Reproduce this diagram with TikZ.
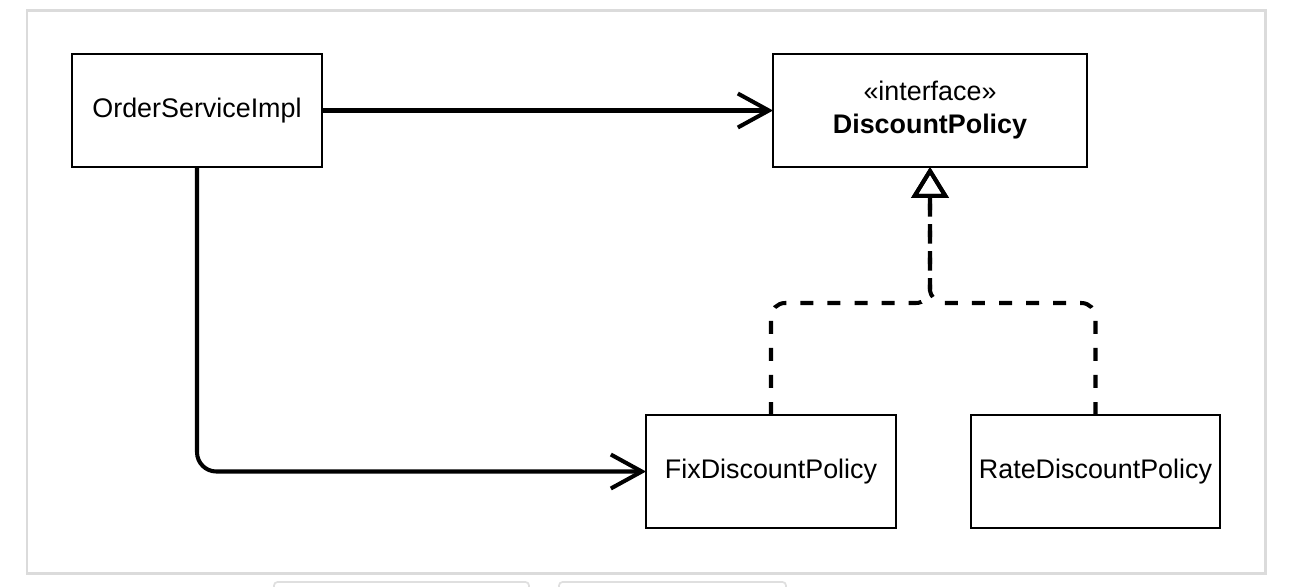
\documentclass[tikz,border=0pt]{standalone}
\usepackage{fontspec}
\setmainfont{Liberation Sans}
\usetikzlibrary{arrows.meta}

\tikzset{
  cls/.style={draw, line width=1.1pt, rectangle, inner sep=0pt, outer sep=0pt,
    minimum width=5cm, minimum height=2.26cm, align=center,
    font=\fontsize{15.3}{18.8}\selectfont},
  assoc/.style={line width=2.3pt, rounded corners=11pt,
    -{Straight Barb[length=0.62cm,width=0.68cm]}},
  impl/.style={line width=2.3pt, rounded corners=8pt, dash pattern=on 7.4pt off 8pt,
    -{Triangle[open,length=0.62cm,width=0.74cm]}}
}

\begin{document}
\begin{tikzpicture}[x=0.02cm, y=-0.02cm]
			\useasboundingbox (0,0) rectangle (1312,586);
			\draw [gray!28, line width=1.7pt] (27,10) rectangle (1265,573);
			%\draw [gray!25, line width=1pt, rounded corners=3pt] (274,586) -- (274,582) -- (529,582) -- (529,586);
			\draw [gray!25, line width=1pt, rounded corners=2pt] (274,590) -- (274,582) -- (529,582) -- (529,590);
			\draw [gray!25, line width=1pt, rounded corners=2pt] (559,590) -- (559,582) -- (786,582) -- (786,590);

			\node [cls] (N1) at (197,110.5) {OrderServiceImpl};
			\node [cls, minimum width=6.28cm] (N2) at (930,110.5) {«interface»\\\textbf{DiscountPolicy}};
			\node [cls] (N3) at (771,471.5) {FixDiscountPolicy};
			\node [cls, minimum width=4.98cm] (N4) at (1095.5,471.5) {RateDiscountPolicy};
			\coordinate (J) at (930,303);

			\draw [assoc] (N1) -- (N2);
			\draw [assoc] (N1.south) |- (N3.west);
			\draw [impl] (N3.north) |- (J) -- (N2.south);
			\draw [impl] (N4.north) |- (J) -- (N2.south);
		\end{tikzpicture}
\end{document}
